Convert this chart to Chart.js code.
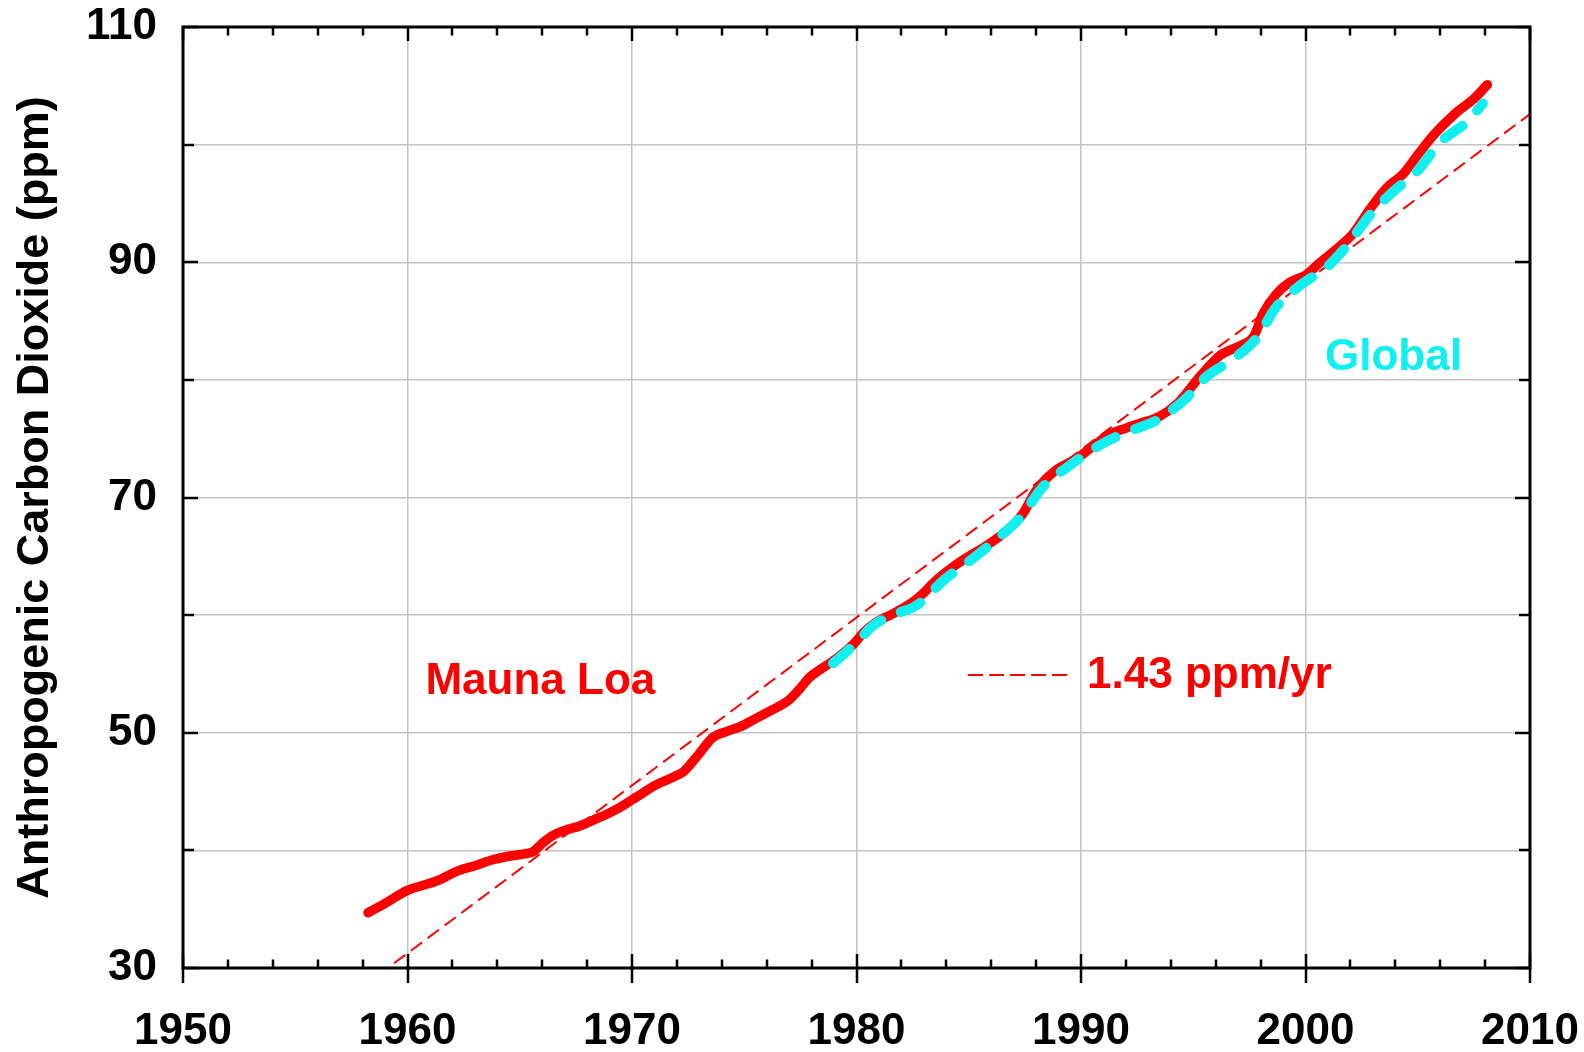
<!DOCTYPE html>
<html>
<head>
<meta charset="utf-8">
<title>Anthropogenic Carbon Dioxide</title>
<script src="https://cdn.jsdelivr.net/npm/chart.js@4.4.1/dist/chart.umd.min.js"></script>
<style>
  html, body { margin: 0; padding: 0; background: #fff; }
  #wrap { width: 1584px; height: 1052px; }
</style>
</head>
<body>
<div id="wrap"><canvas id="co2Chart" width="1584" height="1052"></canvas></div>
<script>
// Mauna Loa (rood, doorgetrokken) - jaar / ppm boven 280
const maunaLoaYears = [1958.24, 1959.0, 1960.0, 1961.0, 1961.3, 1962.3, 1963.0, 1963.8, 1964.5, 1965.2,
    1965.6, 1966.0, 1966.5, 1967.0, 1967.7, 1968.3, 1968.9, 1969.5, 1970.0, 1970.5,
    1971.0, 1971.8, 1972.3, 1972.9, 1973.6, 1974.2, 1974.8, 1975.5, 1976.0, 1976.5,
    1977.0, 1977.5, 1977.9, 1978.4, 1978.8, 1979.3, 1979.9, 1980.3, 1980.8, 1981.6,
    1982.5, 1983.0, 1983.4, 1984.3, 1985.0, 1985.7, 1986.7, 1987.4, 1988.0, 1988.8,
    1989.8, 1990.5, 1991.3, 1992.0, 1992.6, 1993.5, 1994.3, 1995.3, 1996.2, 1997.2,
    1997.7, 1998.1, 1998.7, 1999.3, 2000.0, 2000.6, 2001.3, 2002.1, 2002.9, 2003.6,
    2004.35, 2004.95, 2005.7, 2006.7, 2007.5, 2008.1];
const maunaLoaPpm = [34.7, 35.5, 36.6, 37.2, 37.4, 38.3, 38.7, 39.2, 39.5, 39.7,
    39.9, 40.6, 41.3, 41.7, 42.1, 42.6, 43.1, 43.7, 44.3, 44.9,
    45.5, 46.2, 46.7, 48.0, 49.6, 50.1, 50.5, 51.2, 51.7, 52.2,
    52.8, 53.8, 54.7, 55.4, 55.9, 56.6, 57.6, 58.5, 59.3, 60.1,
    61.1, 61.9, 62.7, 64.1, 65.0, 65.8, 67.2, 68.6, 70.6, 72.2,
    73.3, 74.3, 75.4, 75.9, 76.3, 76.9, 78.0, 80.3, 82.1, 83.0,
    83.7, 85.6, 87.3, 88.3, 88.9, 89.9, 91.0, 92.4, 94.6, 96.3,
    97.5, 99.0, 100.8, 102.7, 103.9, 105.1];

// Global (cyaan, gestreept)
const globalYears = [1978.95, 1979.5, 1980.0, 1980.8, 1981.6, 1982.7, 1983.3, 1983.9, 1985.1, 1986.2,
    1987.3, 1988.3, 1989.4, 1990.7, 1991.9, 1993.4, 1994.6, 1995.6, 1996.8, 1997.8,
    1998.7, 1999.8, 2000.9, 2001.8, 2002.9, 2003.9, 2005.0, 2006.0, 2007.2, 2007.9];
const globalPpm = [55.9, 56.8, 57.7, 59.2, 60.0, 60.85, 61.9, 63.0, 64.7, 66.4,
    68.3, 70.9, 72.6, 74.3, 75.45, 76.6, 78.3, 80.3, 81.8, 83.5,
    86.2, 88.1, 89.5, 91.3, 94.1, 96.0, 97.8, 100.2, 101.95, 103.5];

const trendYears = [1959.4, 2010];
const trendPpm = [30.4, 102.6];

// Legenda-streepje naast "1.43 ppm/yr"
const legendKeyYears = [1984.97, 1989.38];
const legendKeyPpm = [54.9, 54.9];

// As-instellingen
const xMin = 1950, xMax = 2010;
const yMin = 30, yMax = 110;
const yLabelValues = [30, 50, 70, 90, 110];

// Teksten in de grafiek
const annotations = [
    { text: 'Mauna Loa', year: 1960.8, ppm: 53.3, color: '#ff0000' },
    { text: '1.43 ppm/yr', year: 1990.27, ppm: 53.8, color: '#ff0000' },
    { text: 'Global', year: 2000.87, ppm: 80.85, color: '#10f0f0' }
];

const FONT = "'Liberation Sans', Arial, sans-serif";

function toPoints(xs, ys) {
    return xs.map((x, i) => ({ x: x, y: ys[i] }));
}

// Kader, tick-streepjes en teksten
const framePlugin = {
    id: 'frame',
    afterDraw(chart) {
        const { ctx, chartArea: a, scales: { x, y } } = chart;
        ctx.save();
        ctx.strokeStyle = '#000';
        ctx.lineWidth = 2.5;
        ctx.lineCap = 'butt';

        ctx.beginPath();
        // x-ticks elke 2 jaar, groot elke 10
        for (let yr = xMin; yr <= xMax; yr += 2) {
            const px = Math.round(x.getPixelForValue(yr));
            const major = (yr % 10 === 0);
            const inLen = major ? 14 : 8.5;
            ctx.moveTo(px, a.bottom);
            ctx.lineTo(px, a.bottom - inLen);
            if (major) {
                ctx.moveTo(px, a.bottom);
                ctx.lineTo(px, a.bottom + 15);
            }
            ctx.moveTo(px, a.top);
            ctx.lineTo(px, a.top + inLen);
        }
        // y-ticks elke 10
        for (let v = yMin; v <= yMax; v += 10) {
            const py = Math.round(y.getPixelForValue(v));
            const major = yLabelValues.includes(v);
            const len = major ? 15 : 11;
            ctx.moveTo(a.left, py);
            ctx.lineTo(a.left + len, py);
            ctx.moveTo(a.right, py);
            ctx.lineTo(a.right - len, py);
        }
        ctx.stroke();

        ctx.lineWidth = 3;
        ctx.strokeRect(a.left, a.top, a.right - a.left, a.bottom - a.top);

        ctx.font = 'bold 44px ' + FONT;
        ctx.textAlign = 'left';
        ctx.textBaseline = 'alphabetic';
        annotations.forEach(n => {
            ctx.fillStyle = n.color;
            ctx.fillText(n.text, x.getPixelForValue(n.year), y.getPixelForValue(n.ppm));
        });
        ctx.restore();
    }
};

const ctx = document.getElementById('co2Chart').getContext('2d');
new Chart(ctx, {
    type: 'line',
    data: {
        datasets: [
            {
                label: 'Global',
                data: toPoints(globalYears, globalPpm),
                borderColor: '#10f0f0',
                borderWidth: 10,
                borderDash: [22, 21],
                borderCapStyle: 'round',
                borderJoinStyle: 'round',
                cubicInterpolationMode: 'monotone',
                pointRadius: 0,
                fill: false,
                order: 0
            },
            {
                label: 'Mauna Loa',
                data: toPoints(maunaLoaYears, maunaLoaPpm),
                borderColor: '#ff0000',
                borderWidth: 9.5,
                borderCapStyle: 'round',
                borderJoinStyle: 'round',
                cubicInterpolationMode: 'monotone',
                pointRadius: 0,
                fill: false,
                order: 1
            },
            {
                label: 'Trend',
                data: toPoints(trendYears, trendPpm),
                borderColor: '#ff0000',
                borderWidth: 2,
                borderDash: [14, 7],
                pointRadius: 0,
                fill: false,
                order: 2
            },
            {
                label: 'Legend key',
                data: toPoints(legendKeyYears, legendKeyPpm),
                borderColor: '#ff0000',
                borderWidth: 2,
                borderDash: [15, 6],
                pointRadius: 0,
                fill: false,
                order: 3
            }
        ]
    },
    options: {
        responsive: false,
        animation: false,
        layout: { padding: { top: 27, right: 54, left: 0, bottom: 0 } },
        plugins: {
            legend: { display: false },
            tooltip: { enabled: false }
        },
        scales: {
            x: {
                type: 'linear',
                min: xMin,
                max: xMax,
                border: { display: false },
                // onzichtbare tick-streepjes geven de afstand tot de labels
                grid: { color: '#c4c4c4', lineWidth: 1.5, drawTicks: true, tickLength: 37, tickColor: 'rgba(0,0,0,0)' },
                ticks: {
                    stepSize: 10,
                    padding: 0,
                    color: '#000',
                    font: { family: FONT, size: 44, weight: 'bold' },
                    callback: v => String(v)
                },
                afterFit: s => { s.height = 84; }
            },
            y: {
                type: 'linear',
                min: yMin,
                max: yMax,
                border: { display: false },
                grid: { color: '#c4c4c4', lineWidth: 1.5, drawTicks: true, tickLength: 26, tickColor: 'rgba(0,0,0,0)' },
                ticks: {
                    stepSize: 10,
                    padding: 0,
                    color: '#000',
                    font: { family: FONT, size: 44, weight: 'bold' },
                    callback: v => yLabelValues.includes(v) ? String(v) : ''
                },
                title: {
                    display: true,
                    text: 'Anthropogenic Carbon Dioxide (ppm)',
                    color: '#000',
                    font: { family: FONT, size: 45, weight: 'bold' },
                    padding: { top: 9, bottom: 0 }
                },
                afterFit: s => { s.width = 183; }
            }
        }
    },
    plugins: [framePlugin]
});
</script>
</body>
</html>
